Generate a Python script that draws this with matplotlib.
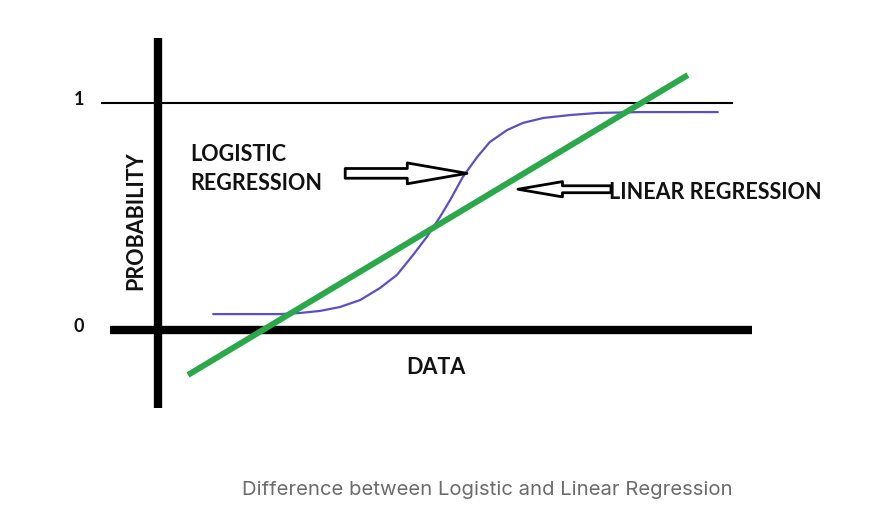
import matplotlib
matplotlib.use("Agg")
import matplotlib.pyplot as plt

# Logistic curve, points (x = data, y = probability)
logistic_x = [0.92, 1.53, 2.03, 2.37, 2.70, 3.03, 3.37, 3.70, 3.98, 4.25, 4.48, 4.70,
              4.87, 5.08, 5.32, 5.53, 5.82, 6.08, 6.42, 6.87, 7.32, 8.03, 9.33]
logistic_y = [0.070, 0.070, 0.070, 0.075, 0.084, 0.101, 0.132, 0.185, 0.242, 0.330, 0.410, 0.498,
              0.573, 0.674, 0.762, 0.828, 0.881, 0.912, 0.934, 0.947, 0.956, 0.960, 0.960]

# Linear regression line end points
linear_x = [0.5, 8.83]
linear_y = [-0.198, 1.123]

# Axis ticks
tick_values = [0, 1]
tick_labels = ["0", "1"]

green = "#2aa84a"
blue = "#5a4fc4"
label_font = dict(family="Lato", fontweight="bold", fontsize=15.5, color="#111111")

fig = plt.figure(figsize=(8.89, 5.31), dpi=100)
ax = fig.add_axes([0, 0, 1, 1])
ax.set_xlim(-2.633, 12.183)
ax.set_ylim(-0.8855, 1.4537)
ax.axis("off")

# axes drawn as thick strokes
ax.plot([0, 0], [-0.344, 1.286], color="black", lw=6, solid_capstyle="butt")
ax.plot([-0.8, 9.9], [0, 0], color="black", lw=6, solid_capstyle="butt")
ax.plot([-0.95, 9.58], [1, 1], color="black", lw=1.5, solid_capstyle="butt")

for v, lab in zip(tick_values, tick_labels):
    ax.text(-1.32, v + 0.015, lab, ha="center", va="center",
            family="Lato", fontweight="bold", fontsize=13, color="#111111")

ax.plot(logistic_x, logistic_y, color=blue, lw=1.6, solid_capstyle="round",
        solid_joinstyle="round")
ax.plot(linear_x, linear_y, color=green, lw=4.3, solid_capstyle="butt")

ax.text(0.53, 0.775, "LOGISTIC", ha="left", va="center", **label_font)
ax.text(0.53, 0.645, "REGRESSION", ha="left", va="center", **label_font)
ax.text(7.52, 0.605, "LINEAR REGRESSION", ha="left", va="center", **label_font)
ax.text(4.63, -0.165, "DATA", ha="center", va="center", **label_font)
ax.text(-0.37, 0.48, "PROBABILITY", ha="center", va="center", rotation=90, **label_font)

# hollow block arrows
ax.annotate("", xy=(5.15, 0.69), xytext=(3.12, 0.69),
            arrowprops=dict(arrowstyle="simple,head_length=43,head_width=15,tail_width=7",
                            mutation_scale=1, fc="white", ec="black", lw=2,
                            shrinkA=0, shrinkB=0))
ax.annotate("", xy=(6.0, 0.62), xytext=(7.55, 0.62),
            arrowprops=dict(arrowstyle="simple,head_length=32,head_width=11,tail_width=5",
                            mutation_scale=1, fc="white", ec="black", lw=2,
                            shrinkA=0, shrinkB=0))

fig.text(487 / 889, 1 - 490 / 531, "Difference between Logistic and Linear Regression",
         ha="center", va="center", family="Inter", fontsize=14.6, color="#6b6b6b")

fig.savefig("out.png", dpi=100, facecolor="white")
